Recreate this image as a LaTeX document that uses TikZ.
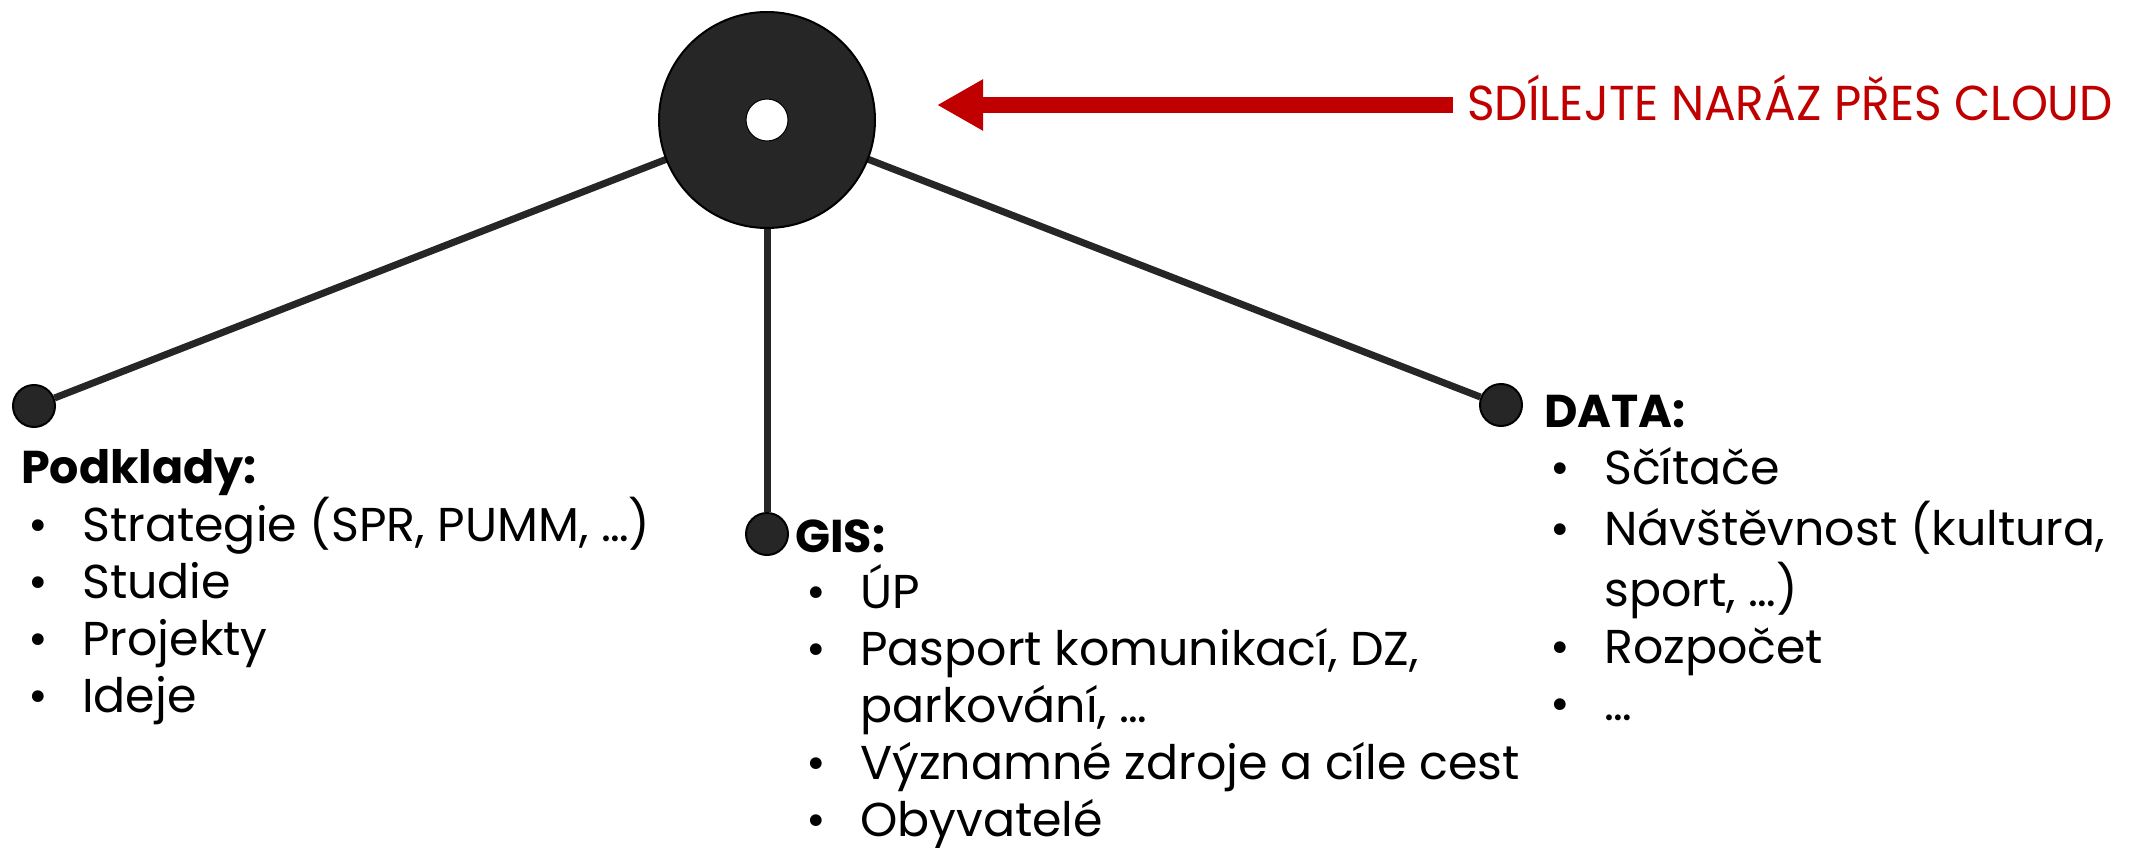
\documentclass[tikz,border=0pt]{standalone}
\usepackage{fontspec}
\setmainfont{Poppins}
\newfontfamily\notefont[FakeStretch=0.96]{Poppins}
\usepackage{array}
\usetikzlibrary{arrows.meta}
\definecolor{hubgray}{HTML}{262626}
\definecolor{sharered}{HTML}{C00000}
\newcommand{\bulletlist}[1]{\begin{tabular}[t]{@{}p{54pt}@{}l@{}}#1\end{tabular}}

\begin{document}
\begin{tikzpicture}[x=1pt,y=-1pt,
  hub/.style={circle,draw=black,line width=2pt,fill=hubgray,minimum size=216pt,inner sep=0pt},
  hole/.style={circle,draw=black,line width=1pt,fill=white,minimum size=42pt,inner sep=0pt},
  dot/.style={circle,draw=black,line width=2pt,fill=hubgray,minimum size=42pt,inner sep=0pt},
  spoke/.style={draw=hubgray,line width=7pt},
  head/.style={anchor=base west,inner sep=0pt,font=\fontsize{46}{57}\selectfont\bfseries},
  items/.style={anchor=base west,inner sep=0pt,font=\fontsize{47.5}{57}\selectfont},
  note/.style={anchor=base west,inner sep=0pt,text=sharered,font=\fontsize{49}{57}\selectfont\notefont}]
\useasboundingbox (0,0) rectangle (2134,848);

\node[dot] (podkladydot) at (34,406) {};
\node[dot] (gisdot) at (767,534) {};
\node[dot] (datadot) at (1501,405) {};
\path[spoke]
(podkladydot) edge (767,120)
(gisdot) edge (767,120)
(datadot) edge (767,120);
\node[hub] (cloud) at (767,120) {};
\node[hole] (hole) at (cloud) {};

\node[note] (share) at (1467,121) {SDÍLEJTE NARÁZ PŘES CLOUD};
\draw[sharered,line width=16pt,-{Triangle[length=46pt,width=48pt]},shorten >=61pt]
([xshift=-14pt,yshift=16pt]share.base west) coordinate (tail) -- (tail -| cloud.east);

% Podklady
\node[head] (podklady) at (21,483) {Podklady:};
\node[items] (podkladylist) at (28,541) {\bulletlist{%
\textbullet & Strategie (SPR, PUMM, …)\\
\textbullet & Studie\\
\textbullet & Projekty\\
\textbullet & Ideje}};

% GIS
\node[head] (gis) at (795,552) {GIS:};
\node[items] (gislist) at (806,608) {\bulletlist{%
\textbullet & ÚP\\
\textbullet & Pasport komunikací, DZ,\\
 & parkování, …\\
\textbullet & Významné zdroje a cíle cest\\
\textbullet & Obyvatelé}};

% DATA
\node[head] (data) at (1544,427) {DATA:};
\node[items] (datalist) at (1550,484) {\bulletlist{%
\textbullet & Sčítače\\
\textbullet & Návštěvnost (kultura,\\
 & sport, …)\\
\textbullet & Rozpočet\\
\textbullet & …}};
\end{tikzpicture}
\end{document}
